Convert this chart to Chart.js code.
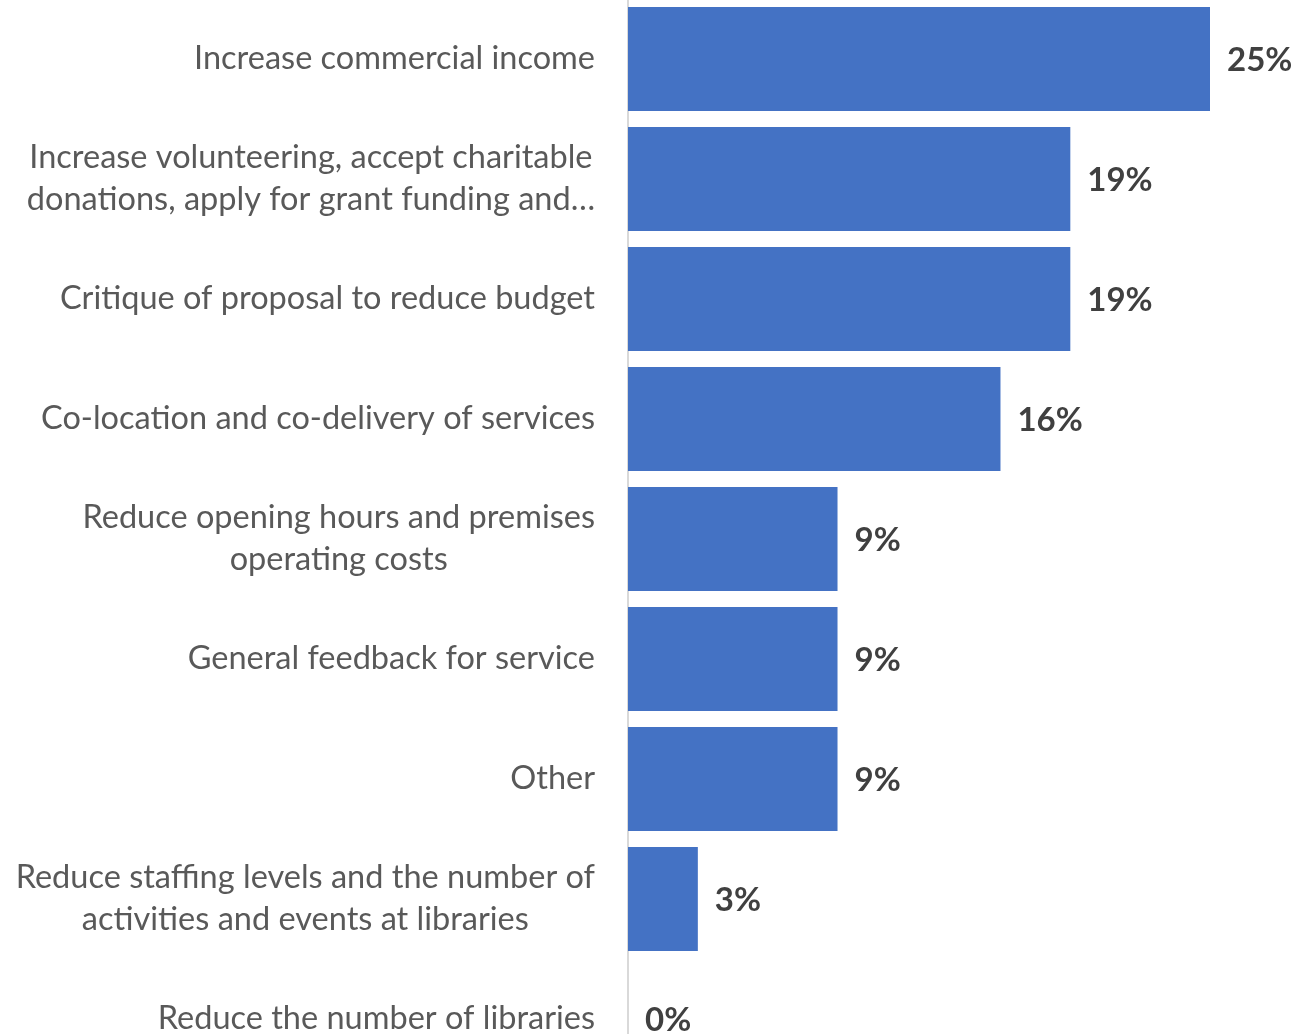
<!DOCTYPE html>
<html>
<head>
<meta charset="utf-8">
<script src="https://cdn.jsdelivr.net/npm/chart.js@4"></script>
<style>
  html, body { margin: 0; padding: 0; background: #fff; overflow: hidden; }
  #wrap { position: relative; top: -1px; width: 1309px; height: 1080px; }
</style>
</head>
<body>
<div id="wrap"><canvas id="chart"></canvas></div>
<script>
// --- data ---
const categories = [
  ['Increase commercial income'],
  ['Increase volunteering, accept charitable', 'donations, apply for grant funding and…'],
  ['Critique of proposal to reduce budget'],
  ['Co-location and co-delivery of services'],
  ['Reduce opening hours and premises', 'operating costs'],
  ['General feedback for service'],
  ['Other'],
  ['Reduce staffing levels and the number of', 'activities and events at libraries'],
  ['Reduce the number of libraries']
];
const shares = [25, 19, 19, 16, 9, 9, 9, 3, 0];

const LABEL_FONT = '32.5px Lato, "Open Sans", sans-serif';
const VALUE_FONT = 'bold 33px Lato, "Open Sans", sans-serif';
const LABEL_GAP = 33;
const LINE_HEIGHT = 42;

// category labels: right edge of each block sits against the axis,
// lines inside a block are centred on each other
const categoryLabels = {
  id: 'categoryLabels',
  afterDraw(chart) {
    const { ctx, chartArea } = chart;
    const yScale = chart.scales.y;
    const right = chartArea.left - LABEL_GAP;
    ctx.save();
    ctx.font = LABEL_FONT;
    ctx.fillStyle = '#595959';
    ctx.textAlign = 'center';
    ctx.textBaseline = 'middle';
    categories.forEach((lines, i) => {
      const blockW = Math.max(...lines.map(l => ctx.measureText(l).width));
      const cx = right - blockW / 2;
      const cy = yScale.getPixelForValue(i);
      lines.forEach((line, j) => {
        ctx.fillText(line, cx, cy + (j - (lines.length - 1) / 2) * LINE_HEIGHT);
      });
    });
    ctx.restore();
  }
};

// value labels just past the end of each bar
const valueLabels = {
  id: 'valueLabels',
  afterDatasetsDraw(chart) {
    const { ctx } = chart;
    const meta = chart.getDatasetMeta(0);
    ctx.save();
    ctx.font = VALUE_FONT;
    ctx.fillStyle = '#404040';
    ctx.textAlign = 'left';
    ctx.textBaseline = 'middle';
    meta.data.forEach((bar, i) => {
      ctx.fillText(shares[i] + '%', bar.x + 17, bar.y + 1);
    });
    ctx.restore();
  }
};

new Chart(document.getElementById('chart'), {
  type: 'bar',
  data: {
    labels: categories.map(c => c.join(' ')),
    datasets: [{
      data: shares,
      backgroundColor: '#4472C4',
      borderWidth: 0,
      categoryPercentage: 1,
      barPercentage: 0.867
    }]
  },
  options: {
    indexAxis: 'y',
    responsive: true,
    maintainAspectRatio: false,
    animation: false,
    layout: { padding: { left: 0, right: 99, top: 0, bottom: 0 } },
    plugins: {
      legend: { display: false },
      tooltip: { enabled: false }
    },
    scales: {
      x: {
        display: false,
        min: 0,
        max: 25
      },
      y: {
        ticks: { display: false },
        grid: { display: true, drawOnChartArea: false, drawTicks: false, tickLength: 0, color: 'rgba(0,0,0,0)' },
        border: { display: true, color: '#d9d9d9', width: 2 },
        afterFit(scale) { scale.width = 628; }
      }
    }
  },
  plugins: [categoryLabels, valueLabels]
});
</script>
</body>
</html>
